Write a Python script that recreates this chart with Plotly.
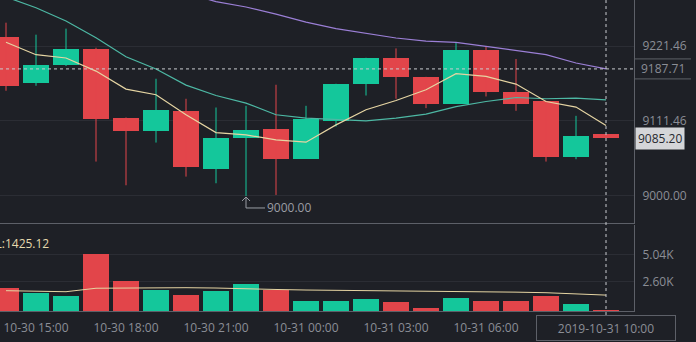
import plotly.graph_objects as go

# Hourly BTC candles, 2019-10-30 14:00 .. 2019-10-31 10:00
opens = [9235.3, 9166.2, 9192.8, 9217.6, 9115.9, 9096.6, 9125.8, 9040.0, 9085.4, 9099.2, 9054.8,
         9111.0, 9164.7, 9204.2, 9175.7, 9136.6, 9216.0, 9153.5, 9140.6, 9058.2, 9091.8]
highs = [9256.0, 9238.3, 9247.2, 9219.0, 9116.0, 9173.2, 9143.6, 9130.7, 9133.2, 9164.3, 9133.2,
         9165.8, 9204.2, 9218.0, 9176.0, 9226.0, 9221.0, 9202.3, 9140.6, 9118.4, 9091.8]
lows = [9155.4, 9162.8, 9192.0, 9050.8, 9015.8, 9078.9, 9028.6, 9018.8, 9000.0, 9001.5, 9054.8,
        9102.6, 9148.4, 9143.6, 9129.8, 9136.0, 9147.0, 9125.8, 9050.8, 9054.3, 9085.2]
closes = [9161.8, 9193.9, 9217.1, 9114.4, 9096.6, 9127.3, 9043.4, 9085.8, 9097.7, 9054.8, 9113.5,
          9165.8, 9204.2, 9176.1, 9136.6, 9216.1, 9153.5, 9136.6, 9058.2, 9088.8, 9085.20]

ma_fast = [9227.0, 9208.7, 9203.8, 9184.5, 9157.9, 9149.5, 9119.9, 9093.7, 9090.3, 9082.9, 9079.5,
           9105.0, 9127.3, 9141.0, 9157.0, 9180.6, 9176.6, 9165.3, 9139.6, 9131.3, 9104.0]
ma_mid = [9294.0, 9278.0, 9258.5, 9233.8, 9205.7, 9187.5, 9163.8, 9148.4, 9137.2, 9120.0, 9115.0,
          9112.5, 9111.0, 9115.0, 9121.0, 9132.0, 9139.6, 9145.5, 9143.6, 9144.6, 9142.0]
ma_slow = [9360.0, 9350.0, 9340.0, 9330.0, 9320.0, 9310.0, 9300.0, 9287.0, 9279.2, 9268.6, 9256.8,
           9247.2, 9239.8, 9233.4, 9228.7, 9226.9, 9221.0, 9215.0, 9208.7, 9196.4, 9187.7]

volumes = [2060, 1640, 1350, 5140, 2690, 1910, 1430, 1820, 2450, 1880, 920,
           920, 1080, 830, 270, 1170, 920, 920, 1350, 630, 20]
vol_ma = [1820, 1790, 1730, 2040, 2060, 2090, 2090, 2060, 1970, 1930, 1880,
          1860, 1840, 1810, 1790, 1770, 1730, 1690, 1640, 1550, 1425.12]

time_ticks = [1, 4, 7, 10, 13, 16]
time_labels = ["10-30 15:00", "10-30 18:00", "10-30 21:00", "10-31 00:00",
               "10-31 03:00", "10-31 06:00"]
price_ticks = [9000.00, 9111.46, 9221.46]
vol_ticks = [2600, 5040]
vol_tick_labels = ["2.60K", "5.04K"]
cursor_index = 20
cursor_price = 9187.71
cursor_time = "2019-10-31 10:00"
vol_label = "VOL:1425.12"

BG = "#1e2026"
UP = "#14c79b"
DOWN = "#e2454a"
GRID = "#2b2d34"
AXIS = "#5d6068"
TXT = "#8b8e96"
FONT = "Open Sans"

idx = list(range(len(opens)))
colors = [UP if c >= o else DOWN for o, c in zip(opens, closes)]

fig = go.Figure()

# wicks
for col in (UP, DOWN):
    wx, wy = [], []
    for i in idx:
        if colors[i] == col:
            wx += [i, i, None]
            wy += [lows[i], highs[i], None]
    fig.add_trace(go.Scatter(x=wx, y=wy, mode="lines", line=dict(color=col, width=1),
                             xaxis="x", yaxis="y", hoverinfo="skip", showlegend=False))

# bodies
fig.add_trace(go.Bar(x=idx, y=[abs(c - o) for o, c in zip(opens, closes)],
                     base=[min(o, c) for o, c in zip(opens, closes)],
                     width=0.87, marker=dict(color=colors, line=dict(width=0)),
                     xaxis="x", yaxis="y", showlegend=False))

# moving averages
for vals, col in ((ma_slow, "#9b7fd6"), (ma_mid, "#4db8a4"), (ma_fast, "#e6d5a3")):
    fig.add_trace(go.Scatter(x=idx, y=vals, mode="lines", line=dict(color=col, width=1.2),
                             xaxis="x", yaxis="y", hoverinfo="skip", showlegend=False))

# volume
fig.add_trace(go.Bar(x=idx, y=volumes, width=0.87, marker=dict(color=colors, line=dict(width=0)),
                     xaxis="x2", yaxis="y2", showlegend=False))
fig.add_trace(go.Scatter(x=idx, y=vol_ma, mode="lines", line=dict(color="#e6d5a3", width=1),
                         xaxis="x2", yaxis="y2", hoverinfo="skip", showlegend=False))

xr = [-0.2, 20.933]
fig.update_layout(
    width=696, height=342,
    margin=dict(l=0, r=62, t=0, b=31),
    paper_bgcolor=BG, plot_bgcolor=BG,
    font=dict(family=FONT, size=12, color=TXT),
    bargap=0,
    xaxis=dict(domain=[0, 1], range=xr, anchor="y", showticklabels=False, showgrid=False,
               zeroline=False, showline=True, linecolor=AXIS, linewidth=1, ticks=""),
    xaxis2=dict(domain=[0, 1], range=xr, anchor="y2", tickvals=time_ticks, ticktext=time_labels,
                showgrid=False, zeroline=False, showline=True, linecolor=AXIS, linewidth=1,
                ticks="", ticklabelstandoff=6, tickfont=dict(color=TXT, size=12)),
    yaxis=dict(domain=[0.283, 1], range=[8960.1, 9289.5], side="right", anchor="x",
               tickvals=price_ticks, ticktext=[f"{v:.2f}" for v in price_ticks],
               showgrid=True, gridcolor=GRID, gridwidth=1, zeroline=False,
               showline=True, linecolor=AXIS, linewidth=1, ticks="", ticklabelstandoff=5),
    yaxis2=dict(domain=[0, 0.2765], range=[0, 7710], side="right", anchor="x2",
                tickvals=vol_ticks, ticktext=vol_tick_labels,
                showgrid=True, gridcolor=GRID, gridwidth=1, zeroline=False,
                showline=True, linecolor=AXIS, linewidth=1, ticks="", ticklabelstandoff=5),
)

imin = min(idx, key=lambda i: lows[i])
shapes = [
    # crosshair
    dict(type="line", xref="x", yref="paper", x0=cursor_index, x1=cursor_index, y0=-0.013, y1=1,
         line=dict(color="#c9cbd0", width=1, dash="3px,3px"), layer="above"),
    dict(type="line", xref="paper", yref="y", x0=0, x1=1, y0=cursor_price, y1=cursor_price,
         line=dict(color="#c9cbd0", width=1, dash="3px,3px"), layer="above"),
    # crosshair price tag edges
    dict(type="line", xref="paper", yref="y", xsizemode="scaled", ysizemode="pixel",
         yanchor=cursor_price, x0=1, x1=1 + 57 / 634, y0=10, y1=10,
         line=dict(color=AXIS, width=1)),
    dict(type="line", xref="paper", yref="y", xsizemode="scaled", ysizemode="pixel",
         yanchor=cursor_price, x0=1, x1=1 + 57 / 634, y0=-10, y1=-10,
         line=dict(color=AXIS, width=1)),
    # low marker elbow
    dict(type="path", xref="x", yref="y", xsizemode="pixel", ysizemode="pixel",
         xanchor=imin, yanchor=lows[imin], path="M 0 -1 L 0 -12 L 19 -12",
         line=dict(color="#9a9da4", width=1)),
    dict(type="path", xref="x", yref="y", xsizemode="pixel", ysizemode="pixel",
         xanchor=imin, yanchor=lows[imin], path="M -4 -5 L 0 -1 L 4 -5",
         line=dict(color="#9a9da4", width=1)),
]
fig.update_layout(shapes=shapes)

annotations = [
    dict(xref="x", yref="y", x=imin, y=lows[imin], text=f"{lows[imin]:.2f}", showarrow=False,
         xanchor="left", yanchor="middle", xshift=19, yshift=-12,
         font=dict(color="#9a9da4", size=12)),
    dict(xref="paper", yref="y", x=1, y=cursor_price, text=f"{cursor_price:.2f}", showarrow=False,
         xanchor="left", yanchor="middle", xshift=5, font=dict(color=TXT, size=12)),
    dict(xref="paper", yref="y", x=1, y=closes[-1], text=f"{closes[-1]:.2f}", showarrow=False,
         xanchor="left", yanchor="middle", xshift=1, bgcolor="#d4d5d8", borderpad=2,
         font=dict(color="#26282e", size=12)),
    dict(xref="paper", yref="paper", x=51 / 634, y=(311 - 243) / 311, text=vol_label,
         showarrow=False, xanchor="right", yanchor="middle", font=dict(color="#e6d9ad", size=12)),
    dict(xref="x2", yref="paper", x=cursor_index, y=(311 - 327.5) / 311, text=cursor_time,
         showarrow=False, xanchor="center", yanchor="middle", width=134, height=20,
         bgcolor=BG, bordercolor=AXIS, borderwidth=1, borderpad=2,
         font=dict(color=TXT, size=12)),
]
fig.update_layout(annotations=annotations)

fig.write_html("out.html")
